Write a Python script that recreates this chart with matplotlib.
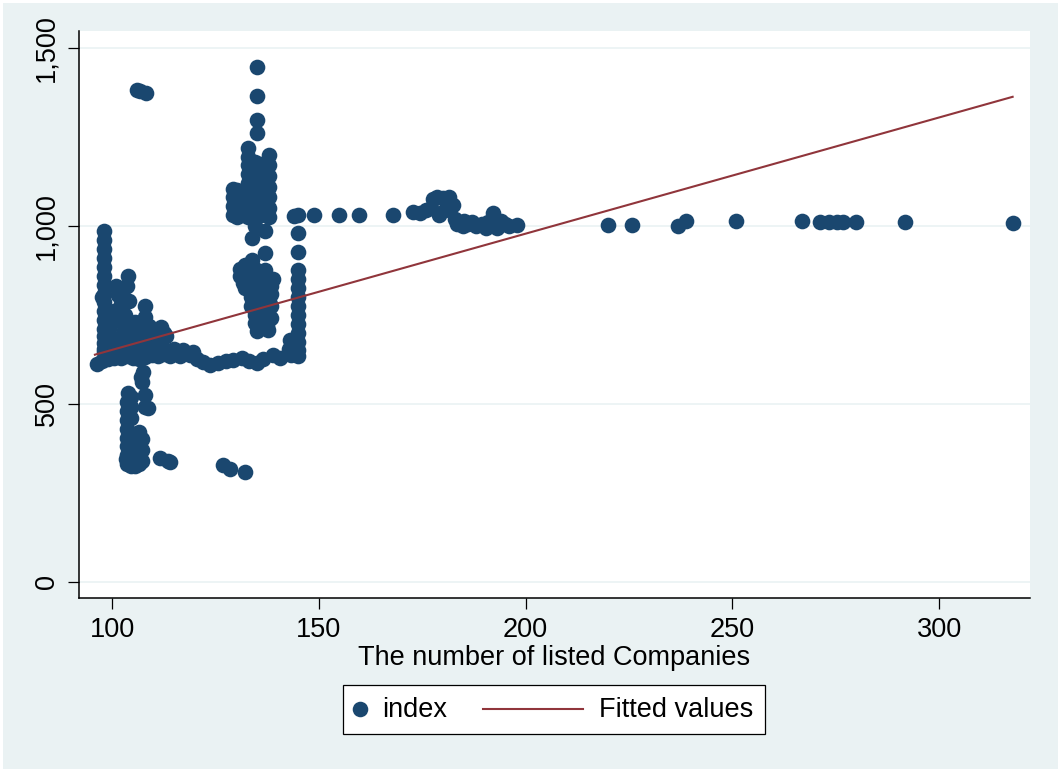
import matplotlib
matplotlib.use("Agg")
import matplotlib.pyplot as plt
from matplotlib.patches import Rectangle
from matplotlib.lines import Line2D
from matplotlib.ticker import FuncFormatter

plt.rcParams['font.family'] = ['Liberation Sans', 'DejaVu Sans']

NAVY = '#1a476f'
MAROON = '#90353b'
BG = '#eaf2f3'
FS = 19.5

# ---- data: (listed companies, index) ----
# tall column near x=98
colA_x = [98.0] * 16 + [97.5, 98.5, 99.5, 99.0]
colA_y = [985, 960, 935, 910, 885, 860, 835, 810, 785, 760, 735, 710, 690, 670, 655, 645,
          800, 760, 720, 690]

# block of points just above the band (x 100-113)
blockB_x = [101.0, 101.5, 102.5, 103.9, 103.5, 102.0, 100.5, 104.0, 101.5, 103.0, 104.5,
            99.5, 101.0, 102.5, 104.0, 105.5, 107.0, 108.5, 110.0, 111.5, 113.0,
            99.5, 101.0, 102.5, 104.0, 105.5, 107.0, 108.5, 110.0, 111.5, 113.0,
            107.9, 108.0, 109.0, 108.5, 111.7, 110.5, 112.5, 106.5, 105.5]
blockB_y = [830, 805, 820, 858, 830, 780, 760, 790, 735, 750, 720,
            650, 655, 650, 660, 655, 650, 655, 660, 655, 650,
            690, 680, 700, 675, 690, 680, 695, 680, 700, 690,
            774, 745, 720, 700, 715, 690, 700, 710, 730]

# band around 620 running from x=96 to 145
band_x = [96.2, 97.5, 99.0, 100.5, 102.0, 103.5, 105.0, 106.5, 108.0, 109.5, 111.0, 112.5,
          114.0, 115.0, 116.4, 117.0, 118.8, 119.5, 120.5, 122.0, 123.6, 125.5, 127.5,
          129.3, 131.3, 133.0, 134.9, 136.5, 138.9, 140.5]
band_y = [612, 620, 625, 630, 628, 635, 630, 625, 632, 638, 635, 640,
          633, 655, 633, 650, 636, 645, 625, 618, 610, 615, 620,
          624, 629, 620, 615, 625, 636, 630]

# low column near x=104-109
colE_x = [107.0, 107.5, 107.2,
          103.9, 103.5, 103.5, 103.5, 103.5, 103.5, 103.5, 103.5, 103.5,
          104.5, 104.5, 104.5, 104.5, 104.5, 104.5, 104.5,
          105.5, 105.5, 105.5, 105.5, 106.5, 106.5, 106.5, 106.5,
          107.2, 107.2, 107.2, 107.9, 108.0, 108.7, 103.2]
colE_y = [575, 590, 560,
          530, 505, 480, 455, 430, 405, 380, 355, 330,
          520, 490, 460, 400, 370, 340, 325,
          410, 380, 350, 325, 420, 390, 360, 330,
          400, 370, 340, 525, 490, 488, 345]

# stray low points
low_x = [111.5, 113.5, 114.0, 126.8, 128.5, 132.1]
low_y = [348, 340, 335, 328, 316, 309]

# stray high points
high_x = [105.9, 106.8, 108.2, 134.9, 134.9, 134.9, 134.9]
high_y = [1383, 1378, 1374, 1446, 1365, 1297, 1262]

# middle block x 129-138, y 1020-1220
midJ_x = [132.9] * 9 + [134.5] * 6 + [136.0] * 6 + [137.9] * 7 + [129.2] * 4 + [130.2] * 4 + [131.5] * 3
midJ_y = [1219, 1195, 1170, 1145, 1120, 1095, 1070, 1045, 1025,
          1180, 1150, 1120, 1090, 1060, 1035,
          1175, 1145, 1115, 1085, 1055, 1030,
          1198, 1170, 1140, 1110, 1080, 1050, 1025,
          1104, 1080, 1055, 1030,
          1100, 1075, 1050, 1025,
          1090, 1060, 1030]

# middle block below, y 700-1000
midK_x = [134.5, 136.9, 133.7, 136.9, 133.7, 131.7, 131.7, 130.8, 136.9, 137.7,
          134.0, 135.5, 137.0, 138.3, 134.0, 135.5, 137.0, 138.3, 134.5, 137.7,
          133.0, 136.0, 138.5,
          132.5, 134.5, 131.0, 133.0, 135.0, 132.0, 133.5, 135.0, 136.5, 138.5,
          134.5, 136.0, 137.5, 135.0, 133.5, 138.0, 136.0, 139.0, 132.0, 134.0]
midK_y = [999, 985, 966, 925, 905, 868, 840, 880, 877, 849,
          815, 820, 800, 810, 780, 770, 760, 775, 727, 708,
          850, 870, 740,
          890, 880, 860, 845, 850, 825, 800, 795, 790, 830,
          750, 740, 720, 705, 775, 790, 830, 850, 890, 865]

# column at x=145
colL_x = [145.0] * 14 + [143.0, 142.8, 143.3]
colL_y = [1032, 980, 928, 877, 850, 825, 800, 775, 750, 725, 700, 675, 650, 635,
          680, 655, 638]

# row near 1030 and the cluster at x 172-198
rowM_x = [144.0, 148.9, 154.9, 159.8, 168.0,
          172.8, 174.5, 176.0, 177.5, 178.5, 180.0, 181.5, 182.5, 179.0, 177.0, 180.5,
          183.0, 184.8, 186.0, 188.0, 189.5, 191.0, 192.2, 193.0, 194.0, 195.0, 197.8,
          185.0, 187.0, 183.5, 190.5, 196.0]
rowM_y = [1029, 1030, 1031, 1031, 1032,
          1040, 1035, 1045, 1075, 1082, 1078, 1080, 1060, 1030, 1050, 1045,
          1020, 1000, 1005, 1000, 1005, 1010, 1035, 995, 1015, 1005, 1003,
          1015, 1010, 1005, 995, 1000]

# sparse points to the right
right_x = [219.8, 225.8, 236.8, 238.8, 250.8, 266.8, 271.2, 273.3, 275.2, 276.8, 279.9, 291.8, 317.8]
right_y = [1004, 1004, 1001, 1013, 1013, 1013, 1012, 1012, 1012, 1012, 1012, 1010, 1008]

# fitted line end points
fit_x = [95.8, 317.8]
fit_y = [638, 1363]

xs = colA_x + blockB_x + band_x + colE_x + low_x + high_x + midJ_x + midK_x + colL_x + rowM_x + right_x
ys = colA_y + blockB_y + band_y + colE_y + low_y + high_y + midJ_y + midK_y + colL_y + rowM_y + right_y

fig = plt.figure(figsize=(10.61, 7.72), dpi=100)
fig.patch.set_facecolor('white')
fig.add_artist(Rectangle((3 / 1061, 3 / 772), 1055 / 1061, 766 / 772,
                         transform=fig.transFigure, facecolor=BG, edgecolor='none', zorder=-10))

ax = fig.add_axes([79 / 1061, 1 - 598 / 772, (1030 - 79) / 1061, (598 - 31) / 772])
ax.set_facecolor('white')

ax.scatter(xs, ys, s=127, color=NAVY, linewidths=0, zorder=3)
ax.plot(fit_x, fit_y, color=MAROON, lw=1.5, zorder=4)

ax.set_xlim(91.95, 322)
ax.set_ylim(-46, 1548)
ax.set_xticks([100, 150, 200, 250, 300])
ax.set_yticks([0, 500, 1000, 1500])
ax.yaxis.set_major_formatter(FuncFormatter(lambda v, p: f"{int(v):,}"))
ax.grid(axis='y', color=BG, lw=1.2, zorder=0)
ax.set_axisbelow(True)

for s in ['top', 'right']:
    ax.spines[s].set_visible(False)
for s in ['left', 'bottom']:
    ax.spines[s].set_linewidth(1.1)

ax.tick_params(axis='both', length=8, width=0.9, labelsize=FS, pad=6)
for lab in ax.get_yticklabels():
    lab.set_rotation(90)
    lab.set_va('center')

ax.set_xlabel('The number of listed Companies', fontsize=FS, labelpad=1)

# legend box drawn like Stata's
W, H = 1061, 772
fig.add_artist(Rectangle((343 / W, 1 - 734 / H), (765 - 343) / W, (734 - 685) / H,
                         transform=fig.transFigure, facecolor='white', edgecolor='black', lw=0.9))
fig.add_artist(Line2D([360 / W], [1 - 709 / H], marker='o', ms=11.2, color=NAVY, mew=0,
                      transform=fig.transFigure))
fig.text(382 / W, 1 - 710 / H, 'index', fontsize=FS, va='center', ha='left')
fig.add_artist(Line2D([483 / W, 583 / W], [1 - 709 / H] * 2, color=MAROON, lw=1.5,
                      transform=fig.transFigure))
fig.text(599 / W, 1 - 710 / H, 'Fitted values', fontsize=FS, va='center', ha='left')

fig.savefig('out.png', dpi=100, facecolor=fig.get_facecolor())
